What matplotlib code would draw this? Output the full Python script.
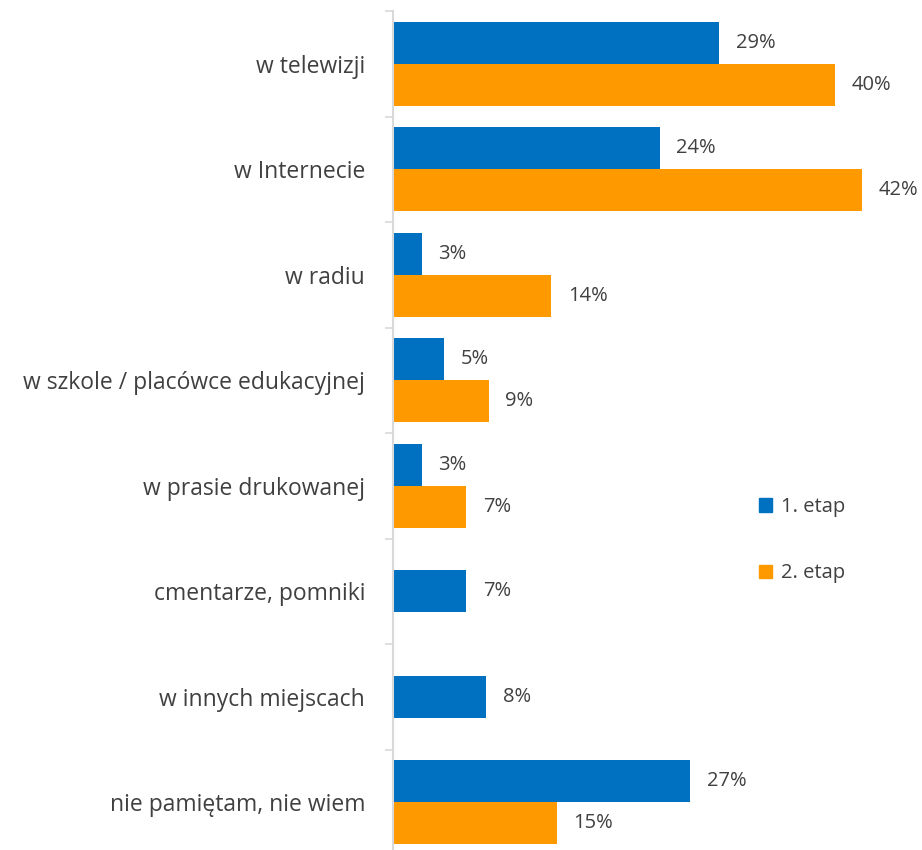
import matplotlib
matplotlib.use("Agg")
import matplotlib.pyplot as plt
import numpy as np

categories = ["w telewizji", "w Internecie", "w radiu", "w szkole / placówce edukacyjnej",
              "w prasie drukowanej", "cmentarze, pomniki", "w innych miejscach",
              "nie pamiętam, nie wiem"]
etap1 = [29.2, 23.9, 2.6, 4.6, 2.6, 6.6, 8.4, 26.6]
etap2 = [39.6, 42.0, 14.2, 8.6, 6.6, None, None, 14.7]
series_names = ["1. etap", "2. etap"]

plt.rcParams['font.family'] = ['Open Sans', 'DejaVu Sans']
BLUE = "#0070C0"
ORANGE = "#FF9900"
TXT = "#404040"
GRID = "#D9D9D9"

fig = plt.figure(figsize=(9.22, 8.5), dpi=100)
ax = fig.add_axes([392.5/922, -5/850, (922-392.5)/922, 844/850])

n = len(categories)
y = np.arange(n)
h = 0.4
VFS = 14.5
for i in range(n):
    v1 = etap1[i]
    v2 = etap2[i]
    if v2 is None:
        ax.barh(y[i], v1, height=h, color=BLUE)
        ax.text(v1 + 1.5, y[i], f"{round(v1)}%", va="center", ha="left", fontsize=VFS, color=TXT)
    else:
        ax.barh(y[i] - h/2, v1, height=h, color=BLUE)
        ax.barh(y[i] + h/2, v2, height=h, color=ORANGE)
        ax.text(v1 + 1.5, y[i] - h/2, f"{round(v1)}%", va="center", ha="left", fontsize=VFS, color=TXT)
        ax.text(v2 + 1.5, y[i] + h/2, f"{round(v2)}%", va="center", ha="left", fontsize=VFS, color=TXT)

ax.set_ylim(n - 0.5, -0.5)
ax.set_xlim(0, (922-392.5)/11.18)
ax.set_yticks(y)
ax.set_yticklabels(categories, fontsize=16.5, color=TXT)
ax.tick_params(axis='y', length=0, pad=19.8)
ax.set_yticks(np.arange(n + 1) - 0.5, minor=True)
ax.tick_params(axis='y', which='minor', length=5.8, color=GRID, width=1.2)
ax.set_xticks([])
for s in ["top", "right", "bottom"]:
    ax.spines[s].set_visible(False)
ax.spines["left"].set_color(GRID)
ax.spines["left"].set_linewidth(1.5)

from matplotlib.patches import Patch
handles = [Patch(color=BLUE), Patch(color=ORANGE)]
leg = fig.legend(handles, series_names, loc="upper left", bbox_to_anchor=(741/922, 1 - 479/850),
                 frameon=False, fontsize=14.5, handlelength=0.65, handleheight=0.65,
                 handletextpad=0.45, labelspacing=2.3, labelcolor=TXT)

fig.savefig("out.png", dpi=100)
